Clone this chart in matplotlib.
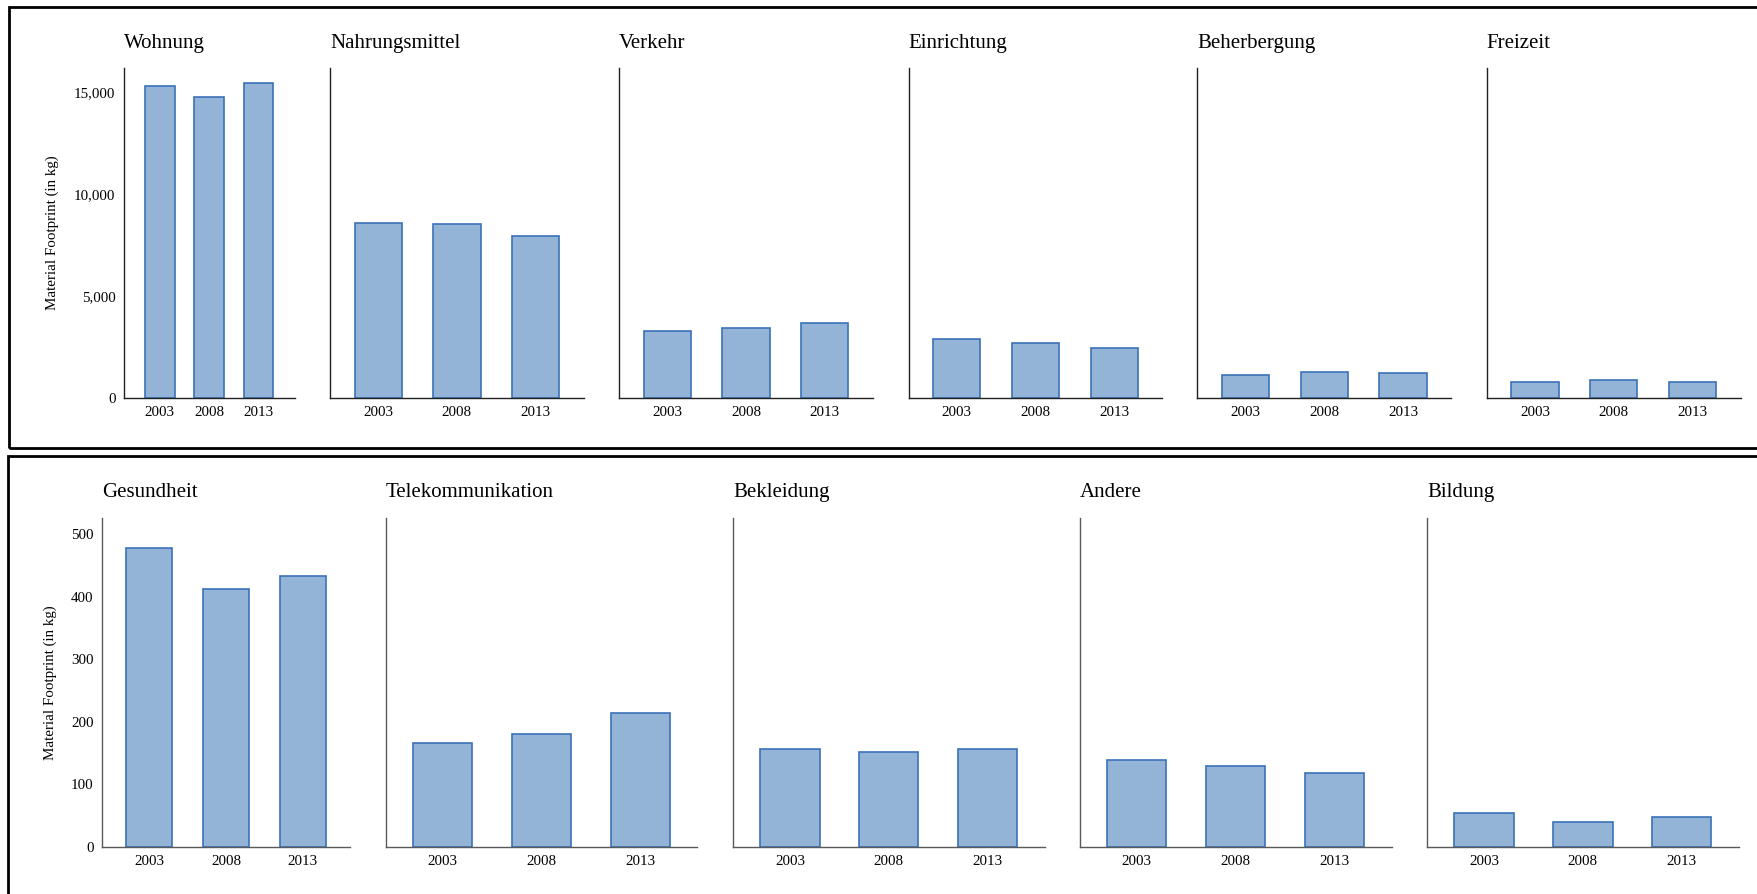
import matplotlib
matplotlib.use('Agg')
import matplotlib.pyplot as plt
from matplotlib.patches import Rectangle
from matplotlib.ticker import FuncFormatter

plt.rcParams['font.family'] = ['Liberation Serif', 'DejaVu Serif']

# Daten
jahre = ['2003', '2008', '2013']

kat_oben = ['Wohnung', 'Nahrungsmittel', 'Verkehr', 'Einrichtung', 'Beherbergung', 'Freizeit']
wohnung = [15320, 14780, 15470]
nahrungsmittel = [8570, 8530, 7940]
verkehr = [3250, 3410, 3660]
einrichtung = [2870, 2670, 2430]
beherbergung = [1100, 1260, 1230]
freizeit = [770, 840, 770]
werte_oben = [wohnung, nahrungsmittel, verkehr, einrichtung, beherbergung, freizeit]

kat_unten = ['Gesundheit', 'Telekommunikation', 'Bekleidung', 'Andere', 'Bildung']
gesundheit = [477, 412, 433]
telekom = [166, 180, 213]
bekleidung = [157, 152, 156]
andere = [138, 129, 118]
bildung = [54, 40, 47]
werte_unten = [gesundheit, telekom, bekleidung, andere, bildung]

W, H = 1757, 894
fig = plt.figure(figsize=(W / 100, H / 100), dpi=100)

fill = '#93b3d7'
edge = '#3a72b8'
ylab = 'Material Footprint (in kg)'


def ax_px(x0, x1, ytop, ybot):
    return fig.add_axes([x0 / W, 1 - ybot / H, (x1 - x0) / W, (ybot - ytop) / H])


def panel(ax, name, vals, first, ylim, yticks, xpad, spine_col, label_x):
    ax.bar(range(len(jahre)), vals, width=0.6, color=fill, edgecolor=edge, linewidth=1.2)
    ax.set_xlim(-xpad, len(jahre) - 1 + xpad)
    ax.set_ylim(*ylim)
    ax.set_xticks(range(len(jahre)))
    ax.set_xticklabels(jahre)
    for s in ['top', 'right']:
        ax.spines[s].set_visible(False)
    for s in ['left', 'bottom']:
        ax.spines[s].set_color(spine_col)
        ax.spines[s].set_linewidth(1.0)
    ax.tick_params(axis='both', length=0, labelsize=10.8, pad=6)
    if first:
        ax.set_yticks(yticks)
        ax.yaxis.set_major_formatter(FuncFormatter(lambda v, p: f'{int(v):,}'))
        ax.set_ylabel(ylab, fontsize=10.8)
        ax.yaxis.set_label_coords(label_x, 0.5)
    else:
        ax.set_yticks([])
    ax.text(0, 1.076, name, transform=ax.transAxes, ha='left', va='center', fontsize=15)


# obere Reihe
oben_x = [(123.8, 294.6), (330.2, 583.6), (619.1, 872.9), (908.5, 1162.2),
          (1197.2, 1451.2), (1486.8, 1740.8)]
for i, (name, vals) in enumerate(zip(kat_oben, werte_oben)):
    ax = ax_px(oben_x[i][0], oben_x[i][1], 68.3, 397.5)
    panel(ax, name, vals, i == 0, (0, 16200), [0, 5000, 10000, 15000],
          0.73 if i == 0 else 0.61, '#222222', -0.382)

# untere Reihe
unten_x = [(101.9, 350.3), (385.7, 697.4), (733.0, 1044.6), (1079.9, 1391.5), (1427.0, 1738.7)]
for i, (name, vals) in enumerate(zip(kat_unten, werte_unten)):
    ax = ax_px(unten_x[i][0], unten_x[i][1], 517.7, 846.7)
    panel(ax, name, vals, i == 0, (0, 526), [0, 100, 200, 300, 400, 500],
          0.62 if i == 0 else 0.575, '#595959', -0.179)

# Rahmen
fig.add_artist(Rectangle((9 / W, 1 - 447.5 / H), (W + 20) / W, (447.5 - 7) / H,
                         transform=fig.transFigure, fill=False, edgecolor='black', lw=2, clip_on=False))
fig.add_artist(Rectangle((8 / W, -0.05), (W + 20) / W, 1.05 - 455.7 / H,
                         transform=fig.transFigure, fill=False, edgecolor='black', lw=2, clip_on=False))

fig.savefig('out.png', dpi=100)
